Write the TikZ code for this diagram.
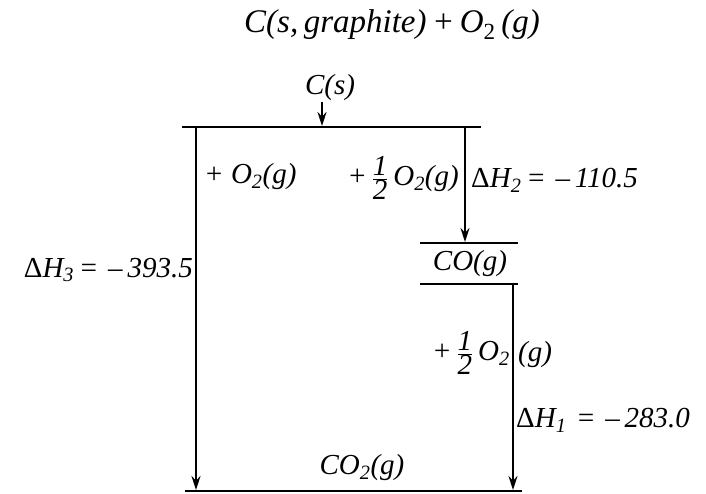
\documentclass[tikz,border=0pt]{standalone}
\usepackage{fontspec}
\setmainfont{Liberation Serif}
\usetikzlibrary{arrows.meta}
\newcommand{\half}{\ensuremath{\frac{\textit{1}}{\textit{2}}}}
\begin{document}
\begin{tikzpicture}[x=1pt,y=-1pt,
  lbl/.style={inner sep=0pt,font=\fontsize{29}{32}\selectfont\itshape},
  level/.style={line width=2.6pt},
  arr/.style={line width=1.6pt,-{Stealth[length=14pt,width=9pt]}}]
\useasboundingbox (0,0) rectangle (706,493);
% texts
\node[lbl,font=\fontsize{33}{36}\selectfont\itshape] (title) at (392,25) {C(s,\,graphite)\,+\,O\textsubscript{\upshape 2}\,(g)};
\node[lbl] (cs) at (330,88) {C(s)};
\node[lbl,anchor=west] (o2) at (204,177) {+ O\textsubscript{2}(g)};
\node[lbl,anchor=east] (ho2) at (459,178) {+\,\half\,O\textsubscript{2}(g)};
\node[lbl,anchor=west] (dh2) at (471,180) {\upshape Δ\itshape H\textsubscript{2}\,=\,\,–\,110.5};
\node[lbl,anchor=east] (dh3) at (193,270) {\upshape Δ\itshape H\textsubscript{3}\,=\,\,–\,393.5};
\node[lbl] (co) at (470,264) {CO(g)};
\node[lbl,anchor=east] (ho2b) at (510,353) {+\,\half\,O\textsubscript{2}};
\node[lbl,anchor=west] (g) at (518,355) {(g)};
\node[lbl,anchor=west] (dh1) at (516,420) {\upshape Δ\itshape H\textsubscript{1}\,\,=\,\,–\,283.0};
\node[lbl] (co2) at (362,468) {CO\textsubscript{2}(g)};
% levels
\coordinate (t1) at (182,127); \coordinate (t2) at (481,127);
\coordinate (c1) at (420,243); \coordinate (c2) at (518,243);
\coordinate (d1) at (420,284); \coordinate (d2) at (518,284);
\coordinate (b1) at (185,491); \coordinate (b2) at (522,491);
\draw[level] (t1) -- (t2);
\draw[level] (c1) -- (c2);
\draw[level] (d1) -- (d2);
\draw[level] (b1) -- (b2);
% arrows
\coordinate (csa) at (322,102); \coordinate (csb) at (322,126);
\coordinate (la) at (196,127); \coordinate (lb) at (196,490);
\coordinate (ra) at (465,127); \coordinate (rb) at (465,242);
\coordinate (sa) at (513,284); \coordinate (sb) at (513,490);
\draw[arr] (csa) -- (csb);
\draw[arr] (la) -- (lb);
\draw[arr] (ra) -- (rb);
\draw[arr] (sa) -- (sb);
\end{tikzpicture}
\end{document}
